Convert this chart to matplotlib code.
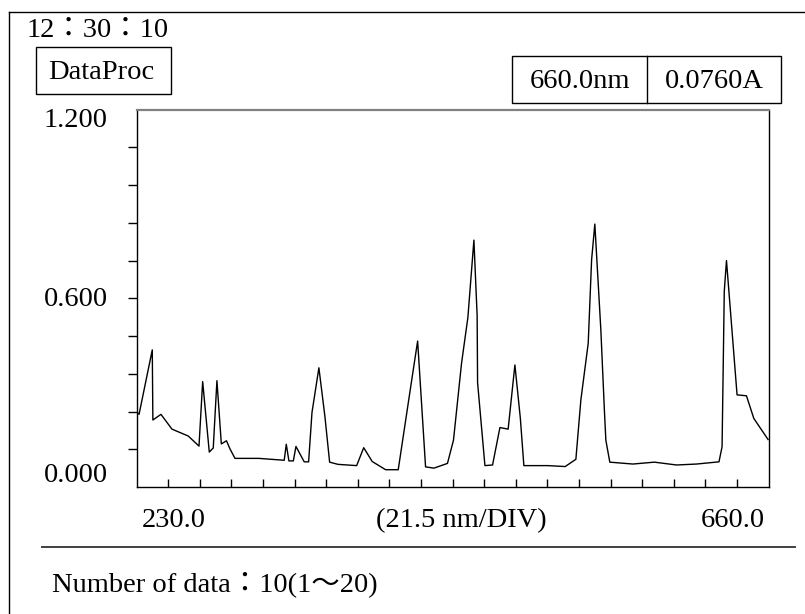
import matplotlib
matplotlib.use("Agg")
import matplotlib.pyplot as plt
from matplotlib.lines import Line2D
from matplotlib.patches import Rectangle

# spectrum (nm, Abs)
wavelength = [230.0, 231.6, 240.6, 241.0, 246.5, 254.0, 265.1, 272.4, 274.9, 279.4,
              282.1, 284.6, 287.6, 291.1, 293.5, 296.9, 313.2, 330.4, 331.8, 333.6,
              336.6, 338.4, 344.0, 347.0, 349.3, 354.0, 358.1, 361.3, 367.0, 379.7,
              384.5, 390.3, 399.4, 408.0, 416.3, 421.2, 426.6, 432.3, 441.5, 445.6,
              451.1, 455.4, 459.5, 461.7, 462.0, 467.0, 472.2, 477.2, 482.8, 487.4,
              491.1, 493.5, 509.8, 521.6, 528.9, 532.3, 537.3, 539.6, 541.8, 545.9,
              548.3, 549.3, 552.0, 567.7, 582.3, 597.4, 611.0, 626.3, 628.4, 629.9,
              631.4, 638.6, 645.0, 650.0, 659.7]
absorbance = [0.239, 0.231, 0.436, 0.213, 0.231, 0.184, 0.162, 0.130, 0.335, 0.111,
              0.124, 0.338, 0.137, 0.147, 0.121, 0.091, 0.091, 0.085, 0.136, 0.083,
              0.083, 0.129, 0.080, 0.080, 0.237, 0.379, 0.224, 0.079, 0.072, 0.068,
              0.125, 0.081, 0.055, 0.055, 0.313, 0.464, 0.064, 0.060, 0.075, 0.149,
              0.394, 0.539, 0.785, 0.545, 0.332, 0.068, 0.070, 0.189, 0.184, 0.388,
              0.219, 0.068, 0.068, 0.065, 0.088, 0.277, 0.457, 0.722, 0.836, 0.499,
              0.245, 0.149, 0.079, 0.073, 0.079, 0.070, 0.073, 0.080, 0.128, 0.622,
              0.720, 0.293, 0.290, 0.218, 0.151]

x_start, x_end = 230.0, 660.0
nm_per_div = 21.5
y_max = 1.2
y_div = 0.12

clock = "12：30：10"
mode = "DataProc"
cursor_wl = "660.0nm"
cursor_abs = "0.0760A"
y_labels = ["1.200", "0.600", "0.000"]
x_labels = ["230.0", "(21.5 nm/DIV)", "660.0"]
footer = "Number of data：10(1～20)"

W, H = 805, 614
FONT = ["Liberation Serif", "Noto Sans CJK JP"]
FS = 20.5


def fx(x):
    return x / W


def fy(y):
    return 1 - y / H


def label(x, y, s, ha="left"):
    fig.text(fx(x), fy(y), s, ha=ha, va="baseline", fontsize=FS,
             family=FONT, color="black")


fig = plt.figure(figsize=(W / 100, H / 100), dpi=100)

# plot area
ax = fig.add_axes([fx(136.7), fy(487), (768.5 - 136.7) / W, (487 - 109.6) / H])
ax.plot(wavelength, absorbance, color="black", lw=1.0)
ax.set_xlim(x_start, x_end)
ax.set_ylim(0, y_max)
ax.set_xticks([x_start + nm_per_div * k for k in range(1, 20)])
ax.set_yticks([y_div * k for k in range(1, 10)])
ax.set_xticklabels([])
ax.set_yticklabels([])
ax.tick_params(axis="x", direction="in", length=6, width=1, color="black")
ax.tick_params(axis="y", direction="out", length=6.5, width=1, color="black")
for side in ["left", "bottom", "right"]:
    ax.spines[side].set_linewidth(1)
    ax.spines[side].set_color("black")
ax.spines["top"].set_color("#808080")
ax.spines["top"].set_linewidth(1.6)

# screen frame
fig.add_artist(Line2D([fx(9), fx(805)], [fy(12), fy(12)], color="black", lw=1))
fig.add_artist(Line2D([fx(9), fx(9)], [fy(12), fy(614)], color="black", lw=1))
fig.add_artist(Line2D([fx(42), fx(795)], [fy(547), fy(547)], color="#404040", lw=1.4))

# boxes
fig.add_artist(Rectangle((fx(36), fy(94)), (171 - 36) / W, (94 - 47) / H,
                         fill=False, edgecolor="black", lw=1))
fig.add_artist(Rectangle((fx(512), fy(103)), (781 - 512) / W, (103 - 56) / H,
                         fill=False, edgecolor="black", lw=1))
fig.add_artist(Line2D([fx(647), fx(647)], [fy(56), fy(103)], color="black", lw=1))

label(27, 37, clock)
label(48, 79, mode)
label(579.5, 88, cursor_wl, ha="center")
label(714, 88, cursor_abs, ha="center")

label(108, 127, y_labels[0], ha="right")
label(108, 306, y_labels[1], ha="right")
label(108, 482, y_labels[2], ha="right")

label(142, 527, x_labels[0])
label(461, 527, x_labels[1], ha="center")
label(765, 527, x_labels[2], ha="right")

label(52, 591, footer)

fig.savefig("out.png", dpi=100)
